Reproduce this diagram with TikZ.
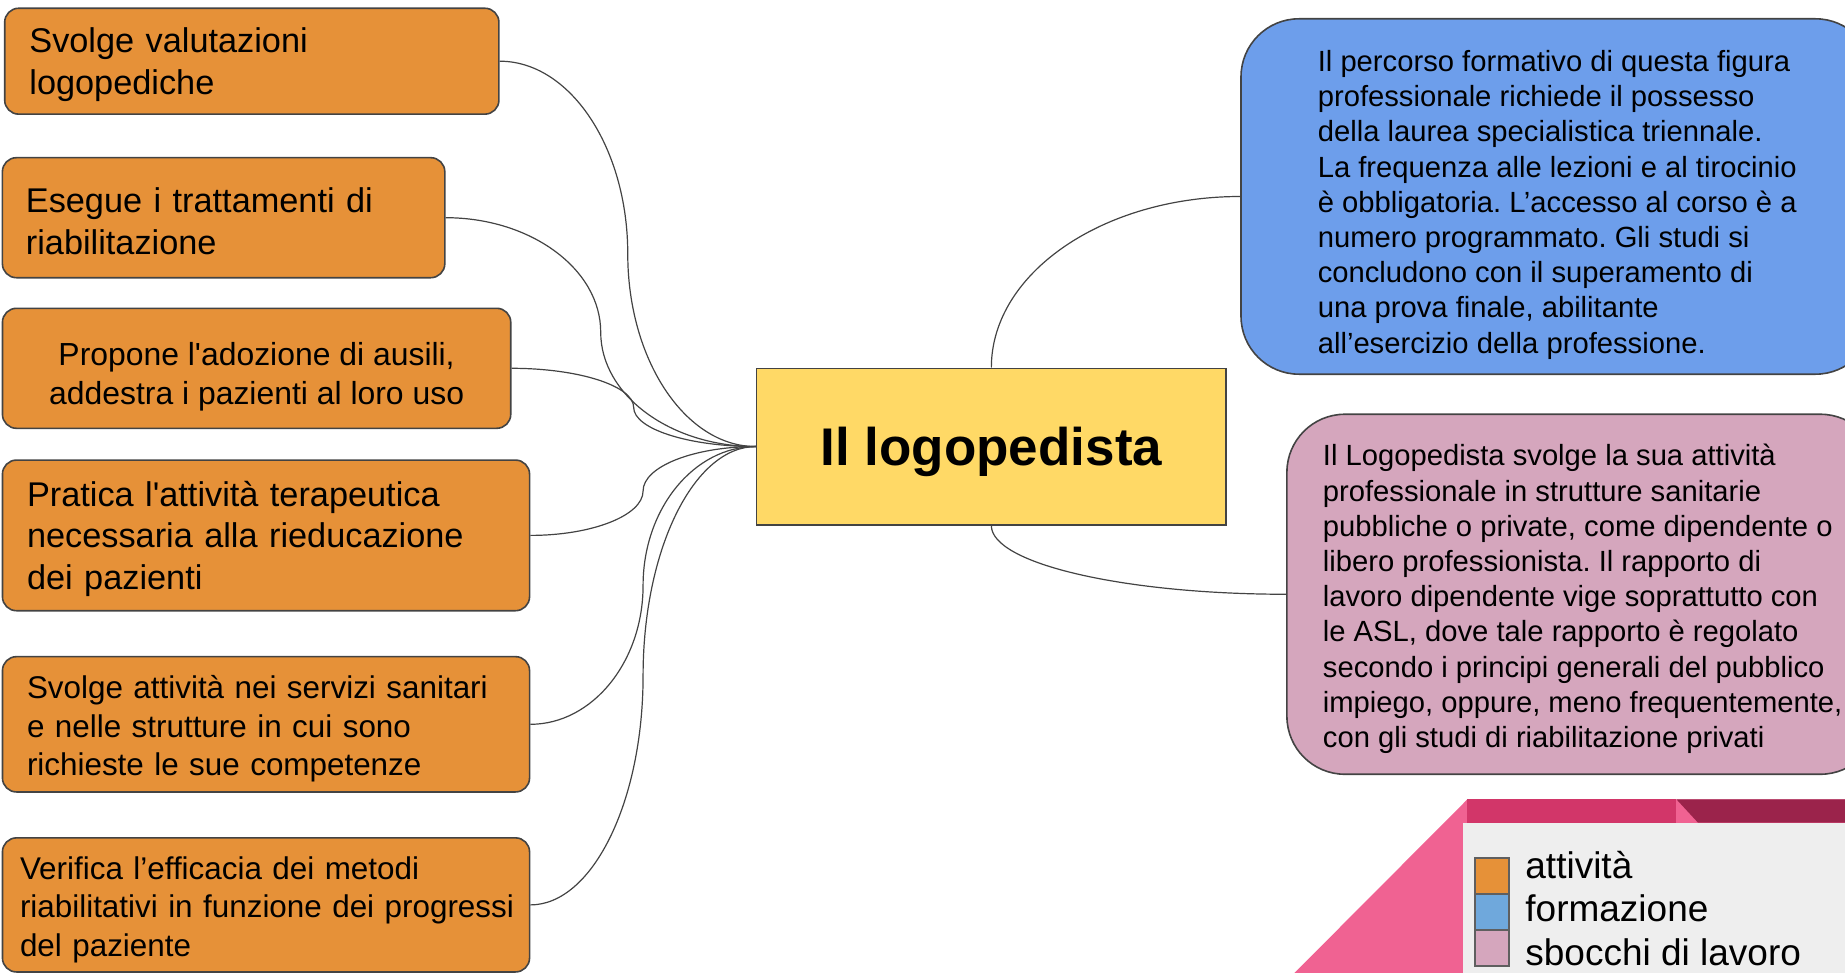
\documentclass[tikz,border=0pt]{standalone}
\usepackage{fontspec}
\setmainfont{Liberation Sans}
\usepackage{tikz}
\usetikzlibrary{calc}
\frenchspacing

\definecolor{attivita}{HTML}{E69138}
\definecolor{formazione}{HTML}{6D9EEB}
\definecolor{sbocchi}{HTML}{D5A6BD}
\definecolor{titolo}{HTML}{FFD966}
\definecolor{bordo}{HTML}{434343}
\definecolor{legblu}{HTML}{6FA8DC}
\definecolor{legrosa}{HTML}{F06292}
\definecolor{legfucsia}{HTML}{D23669}
\definecolor{legvino}{HTML}{9B234B}
\definecolor{leggrigio}{HTML}{EEEEEE}

\begin{document}
\begin{tikzpicture}[x=0.5pt,y=-0.5pt,
            spinta/.style={execute at begin node={\rule{0pt}{#1}}},
            attbox/.style={draw=bordo,line width=0.8pt,fill=attivita,rounded corners=7pt,inner sep=0pt,align=left},
            grande/.style={font=\fontsize{17.15pt}{20.75pt}\selectfont,spinta=16.1pt},
            piccolo/.style={font=\fontsize{15.7pt}{19.15pt}\selectfont,spinta=16.2pt},
            infobox/.style={draw=bordo,line width=0.8pt,rounded corners=29pt,inner ysep=0pt,anchor=west,align=left,font=\fontsize{14.6pt}{17.6pt}\selectfont},
            legkey/.style={draw=bordo!85,line width=1pt,minimum width=17.1pt,minimum height=17.9pt,inner sep=0pt},
            legtxt/.style={anchor=base west,inner sep=0pt,font=\fontsize{18.5pt}{21.7pt}\selectfont},
            conn/.style={draw=bordo,line width=0.6pt}]
            \useasboundingbox (0,0) rectangle (1845,973);
            \clip (0,0) rectangle (1845,973);

            \node[attbox,grande,minimum width=247.1pt,minimum height=52.95pt,text width=222.4pt] (b1) at (251.8,61.2) {Svolge valutazioni\\logopediche};
            \node[attbox,grande,minimum width=221.2pt,minimum height=60pt,text width=197.7pt] (b2) at (223.6,217.7) {Esegue i trattamenti di\\riabilitazione};
            \node[attbox,font=\fontsize{15.95pt}{19.15pt}\selectfont,align=center,minimum width=254.15pt,minimum height=60pt] (b3) at (256.6,368.3) {\rule{0pt}{19.9pt}Propone l\textquotesingle adozione di ausili,\\addestra i pazienti al loro uso};
            \node[attbox,grande,minimum width=263.55pt,minimum height=75.3pt,text width=238.95pt] (b4) at (266,535.4) {Pratica l\textquotesingle attività terapeutica\\necessaria alla rieducazione\\dei pazienti};
            \node[attbox,piccolo,minimum width=263.55pt,minimum height=67.65pt,text width=239pt] (b5) at (266,724.3) {Svolge attività nei servizi sanitari\\e nelle strutture in cui sono\\richieste le sue competenze};
            \node[attbox,piccolo,minimum width=263.55pt,minimum height=67.05pt,text width=246pt] (b6) at (266,904.9) {Verifica l’efficacia dei metodi\\\mbox{riabilitativi in funzione dei progressi}\\del paziente};

            \node[draw=bordo,line width=0.8pt,fill=titolo,minimum width=234.75pt,minimum height=78.25pt,font=\fontsize{26.5pt}{30pt}\selectfont\bfseries,spinta=25pt] (hub) at (991.35,446.55) {Il logopedista};

            \node[infobox,fill=formazione,inner xsep=38.4pt,minimum height=177.7pt] (form) at (1240.2,196.5) {\rule{0pt}{18.9pt}Il percorso formativo di questa figura\\professionale richiede il possesso\\della laurea specialistica triennale.\\La frequenza alle lezioni e al tirocinio\\è obbligatoria. L’accesso al corso è a\\numero programmato. Gli studi si\\concludono con il superamento di\\una prova finale, abilitante\\all’esercizio della professione.};
            \node[infobox,fill=sbocchi,inner xsep=18pt,minimum height=180pt] (lavoro) at (1286.1,594.25) {\rule{0pt}{15.4pt}Il Logopedista svolge la sua attività\\professionale in strutture sanitarie\\pubbliche o private, come dipendente o\\libero professionista. Il rapporto di\\lavoro dipendente vige soprattutto con\\le ASL, dove tale rapporto è regolato\\secondo i principi generali del pubblico\\impiego, oppure, meno frequentemente,\\con gli studi di riabilitazione privati};

            \foreach \b in {b1,b2,b3,b4,b5,b6} {
                \draw[conn] let \p1=(\b.east), \p2=(hub.west), \p3=($(\p1)!.5!(\p2)$) in
                    (\p1) .. controls ({0.45*\x1+0.55*\x3},\y1) and (\x3,{0.45*\y3+0.55*\y1}) .. (\p3)
                    .. controls (\x3,{0.45*\y3+0.55*\y2}) and ({0.45*\x2+0.55*\x3},\y2) .. (\p2);
            }
            \draw[conn] (hub.north) .. controls +(0,-94.5) and +(-137,0) .. (form.west);
            \draw[conn] (hub.south) .. controls +(0,38) and +(-162,0) .. (lavoro.west);

            \fill[legrosa] (1294.4,973) -- (1467.4,799.3) -- (1845,799.3) -- (1845,973) -- cycle;
            \fill[legfucsia] (1467.4,799.3) rectangle (1676.4,822.7);
            \fill[legvino] (1676.4,799.3) -- (1845,799.3) -- (1845,822.7) -- (1698,822.7) -- cycle;
            \fill[leggrigio] (1463,822.7) rectangle (1845,973);
            \foreach \i/\c/\t in {1/attivita/attività,2/legblu/formazione,3/sbocchi/sbocchi di lavoro} {
                \node[legkey,fill=\c] (key\i) at (1491.7,{840.4+35.8*\i}) {};
                \node[legtxt] (voce\i) at (1525,{834.9+43.4*\i}) {\t};
            }
        \end{tikzpicture}
\end{document}
